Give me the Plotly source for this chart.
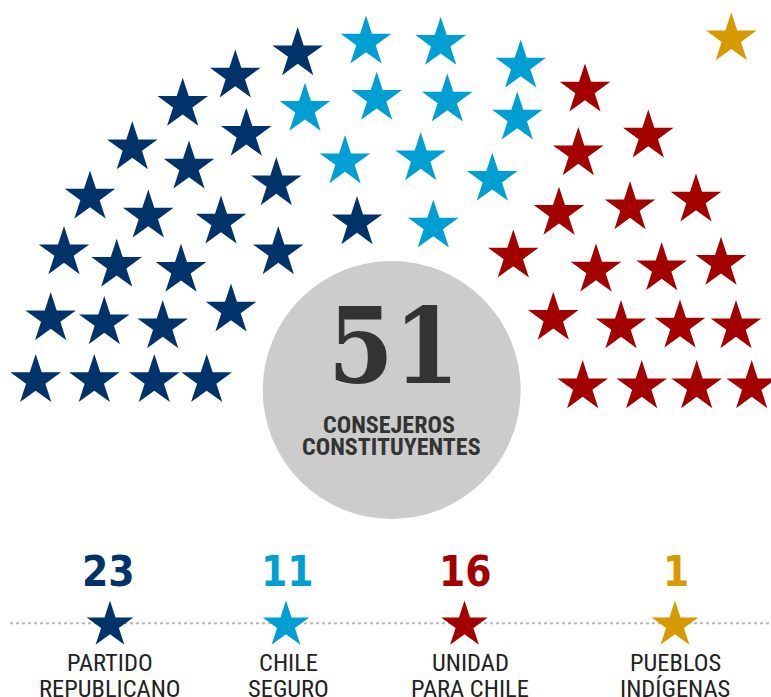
import plotly.graph_objects as go

# ---------------- data ----------------
party_line1 = ["PARTIDO", "CHILE", "UNIDAD", "PUEBLOS"]
party_line2 = ["REPUBLICANO", "SEGURO", "PARA CHILE", "INDÍGENAS"]
seat_counts = [23, 11, 16, 1]
total_seats = 51
colors = ["#00336a", "#009fd3", "#a30000", "#d69a00"]

# seat positions (chart units)
rep_x = [297.7, 235.3, 182.7, 246.3, 132.3, 189, 276.3, 90, 148.3, 221, 357, 64, 116.7, 181,
         278.3, 50.7, 104.3, 162.7, 231, 35.7, 94.3, 154.3, 206.7]
rep_y = [53.7, 76, 104.3, 134.3, 147.7, 167, 183.7, 197, 216, 222, 222.7, 252.7, 265.3, 270.3,
         252.7, 318.7, 322.7, 326.7, 310, 380.5, 380.5, 380.5, 380.5]
cs_x = [366, 440.7, 520.7, 305, 376.7, 447.3, 517.3, 345, 420.7, 492.3, 433.3]
cs_y = [42, 43.3, 66, 109.3, 98.3, 100, 118, 161.7, 158.7, 179.3, 226]
upc_x = [585, 648.3, 578.3, 559, 630, 696, 513.3, 596, 661.7, 721, 553.3, 621, 680, 736,
         582.7, 641.7, 696.7, 751.7]
upc_y = [90, 136, 153.7, 213.3, 207.7, 200, 256, 270, 268.7, 263.3, 318.3, 326.7, 326, 326.7,
         386.7, 386.7, 386.7, 386.7]
pi_x = [731.3]
pi_y = [38.8]

seat_x = [rep_x, cs_x, upc_x, pi_x]
seat_y = [rep_y, cs_y, upc_y, pi_y]

legend_x = [110, 286, 464.5, 675]
legend_num_x = [108, 287, 465, 676]
legend_lbl_x = [109.5, 288, 470, 675]

# ---------------- figure ----------------
fig = go.Figure()

for xs, ys, c in zip(seat_x, seat_y, colors):
    fig.add_trace(go.Scatter(x=xs, y=ys, mode="markers",
                             marker=dict(symbol="star", size=38, color=c, line=dict(width=0)),
                             hoverinfo="skip", showlegend=False))

# legend stars
fig.add_trace(go.Scatter(x=legend_x, y=[625] * 4, mode="markers",
                         marker=dict(symbol="star", size=35, color=colors, line=dict(width=0)),
                         hoverinfo="skip", showlegend=False))

shapes = [
    dict(type="circle", xref="x", yref="y", x0=391.7 - 129, x1=391.7 + 129,
         y0=390 - 129, y1=390 + 129, fillcolor="#cccccc", line=dict(width=0), layer="below"),
    dict(type="line", xref="x", yref="y", x0=10, x1=771, y0=623.3, y1=623.3,
         line=dict(color="#b8b8b8", width=2, dash="dot"), layer="below"),
]

COND = "Roboto Condensed, DejaVu Sans Condensed, sans-serif"
annotations = [
    dict(x=393.7, y=346, text=f"<b>{total_seats}</b>", showarrow=False,
         font=dict(family="DejaVu Serif Condensed, DejaVu Serif", size=105, color="#333333"),
         xanchor="center", yanchor="middle"),
    dict(x=389, y=425, text="<b>CONSEJEROS</b>", showarrow=False,
         font=dict(family=COND, size=24, color="#333333"),
         xanchor="center", yanchor="middle"),
    dict(x=391.7, y=446.5, text="<b>CONSTITUYENTES</b>", showarrow=False,
         font=dict(family=COND, size=24, color="#333333"),
         xanchor="center", yanchor="middle"),
]

for nx, lx, n, l1, l2, c in zip(legend_num_x, legend_lbl_x, seat_counts, party_line1, party_line2, colors):
    annotations.append(dict(x=nx, y=571, text=f"<b>{n}</b>", showarrow=False,
                            font=dict(family="DejaVu Sans Condensed, DejaVu Sans", size=42, color=c),
                            xanchor="center", yanchor="middle"))
    annotations.append(dict(x=lx, y=662.5, text=l1, showarrow=False,
                            font=dict(family=COND, size=24.5, color="#222222"),
                            xanchor="center", yanchor="middle"))
    annotations.append(dict(x=lx, y=688.5, text=l2, showarrow=False,
                            font=dict(family=COND, size=24.5, color="#222222"),
                            xanchor="center", yanchor="middle"))

fig.update_layout(
    width=771, height=697,
    margin=dict(l=0, r=0, t=0, b=0),
    paper_bgcolor="white", plot_bgcolor="white",
    xaxis=dict(range=[0, 771], visible=False, fixedrange=True, autorange=False),
    yaxis=dict(range=[697, 0], visible=False, fixedrange=True, autorange=False),
    shapes=shapes, annotations=annotations,
)

fig.write_html("out.html", config={"displayModeBar": False},
               post_script="document.body.style.margin='0';")
